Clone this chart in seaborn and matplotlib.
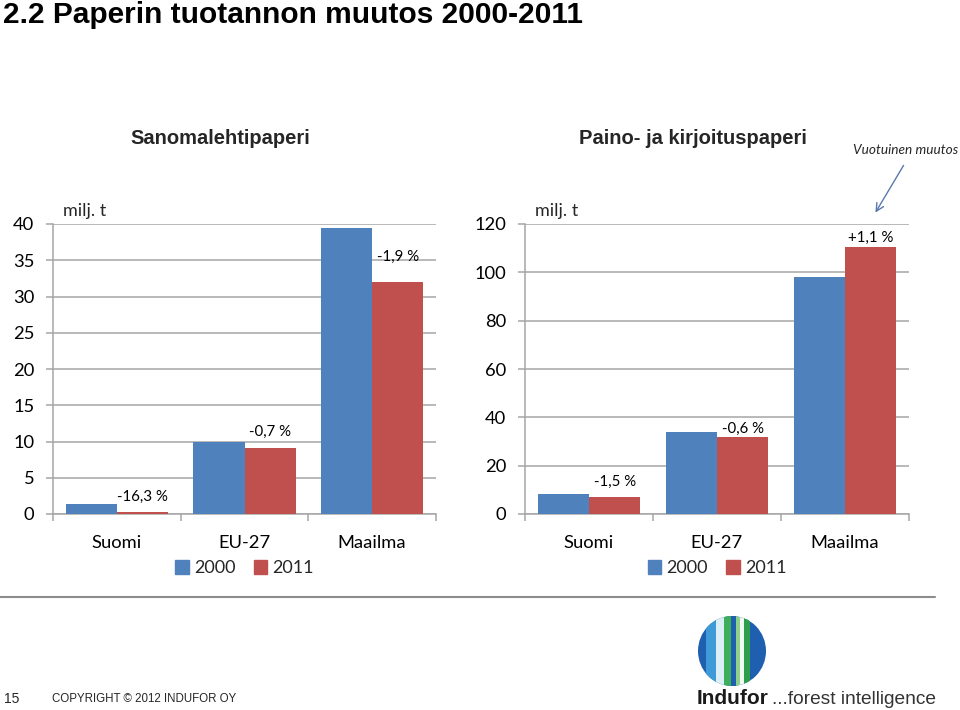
import matplotlib
matplotlib.use("Agg")
import matplotlib.pyplot as plt
import matplotlib.patches as mpatches
import seaborn as sns
import pandas as pd
import numpy as np

# ---------------- data ----------------
categories = ["Suomi", "EU-27", "Maailma"]
years = ["2000", "2011"]
news_2000 = [1.35, 10.0, 39.4]
news_2011 = [0.25, 9.1, 32.0]
news_change = ["-16,3 %", "-0,7 %", "-1,9 %"]
print_2000 = [8.2, 33.8, 97.9]
print_2011 = [6.9, 31.7, 110.6]
print_change = ["-1,5 %", "-0,6 %", "+1,1 %"]
news_yticks = [0, 5, 10, 15, 20, 25, 30, 35, 40]
print_yticks = [0, 20, 40, 60, 80, 100, 120]

# label offsets (points) above 2011 bars
news_off = [11, 11.5, 18]
print_off = [11, 6, 6.5]

BLUE = "#4F81BD"
RED = "#C0504D"
GRID = "#A6A6A6"
FONT = "Lato"

sns.set_theme(style="white")
plt.rcParams["font.family"] = [FONT, "DejaVu Sans"]

fig = plt.figure(figsize=(9.6, 7.1), dpi=100)


def make_df(v00, v11):
    return pd.DataFrame({
        "cat": categories * 2,
        "year": [years[0]] * 3 + [years[1]] * 3,
        "val": list(v00) + list(v11),
    })


def draw(ax, df, yticks, changes, offs):
    sns.barplot(data=df, x="cat", y="val", hue="year", order=categories,
                hue_order=years, palette=[BLUE, RED], width=0.8,
                saturation=1, ax=ax, zorder=3, edgecolor="none")
    ax.set_ylim(yticks[0], yticks[-1])
    ax.set_yticks(yticks)
    ax.set_xlim(-0.5, 2.5)
    ax.set_xlabel("")
    ax.set_ylabel("")
    ax.grid(axis="y", color=GRID, linewidth=1.1, zorder=0)
    ax.set_axisbelow(True)
    for s in ["top", "right"]:
        ax.spines[s].set_visible(False)
    for s in ["left", "bottom"]:
        ax.spines[s].set_color(GRID)
        ax.spines[s].set_linewidth(1.1)
    ax.tick_params(axis="y", length=5, color=GRID, width=1.1, labelsize=13.2,
                   labelcolor="black", pad=8.5, left=True)
    ax.tick_params(axis="x", which="major", length=0, labelsize=13.2,
                   labelcolor="black", pad=15)
    ax.set_xticks([-0.5, 0.5, 1.5, 2.5], minor=True)
    ax.tick_params(axis="x", which="minor", length=5, color=GRID, width=1.1,
                   bottom=True)
    # 2011 change labels
    bars = ax.containers[1]
    for rect, txt, o in zip(bars.patches, changes, offs):
        ax.annotate(txt, (rect.get_x() + rect.get_width() / 2, rect.get_height()),
                    xytext=(0, o), textcoords="offset points", ha="center",
                    va="center", fontsize=10.8, color="black")
    handles = [mpatches.Patch(color=BLUE), mpatches.Patch(color=RED)]
    if ax.get_legend() is not None:
        ax.get_legend().remove()
    ax.legend(handles, years, loc="upper center", bbox_to_anchor=(0.5, -0.135),
              ncol=2, frameon=False, fontsize=13, handlelength=0.75,
              handleheight=0.75, handletextpad=0.3, columnspacing=1.0,
              borderaxespad=0)
    ax.text(0.025, 1.045, "milj. t", transform=ax.transAxes, fontsize=13,
            ha="left", va="center")


ax1 = fig.add_axes([53 / 960, 1 - 514 / 710, 383 / 960, 290 / 710])
ax2 = fig.add_axes([525 / 960, 1 - 514 / 710, 384 / 960, 290 / 710])
draw(ax1, make_df(news_2000, news_2011), news_yticks, news_change, news_off)
draw(ax2, make_df(print_2000, print_2011), print_yticks, print_change, print_off)

# ---------------- texts ----------------
fig.text(3 / 960, 1 - 15 / 710, "2.2 Paperin tuotannon muutos 2000-2011",
         fontsize=21.5, fontweight="bold", family=["Liberation Sans", "DejaVu Sans"],
         ha="left", va="center", color="black")
fig.text(220 / 960, 1 - 138 / 710, "Sanomalehtipaperi", fontsize=14.5,
         fontweight="bold", family=["Liberation Sans", "DejaVu Sans"],
         ha="center", va="center")
fig.text(693 / 960, 1 - 138 / 710, "Paino- ja kirjoituspaperi", fontsize=14.5,
         fontweight="bold", family=["Liberation Sans", "DejaVu Sans"],
         ha="center", va="center")
fig.text(958 / 960, 1 - 150 / 710, "Vuotuinen muutos", fontsize=9.8,
         style="italic", ha="right", va="center")
fig.add_artist(mpatches.FancyArrowPatch(
    (905 / 960, 1 - 163 / 710), (874 / 960, 1 - 215 / 710),
    transform=fig.transFigure, arrowstyle="->", mutation_scale=14,
    color="#5A78B0", linewidth=1.0))

# footer
fig.add_artist(plt.Line2D([0, 935 / 960], [1 - 597 / 710] * 2,
                          transform=fig.transFigure, color="#8C8C8C", lw=1.5))
fig.text(4 / 960, 1 - 699 / 710, "15", fontsize=10,
         family=["Liberation Sans", "DejaVu Sans"], va="center", ha="left")
fig.text(52 / 960, 1 - 699 / 710, "COPYRIGHT © 2012 INDUFOR OY", fontsize=8.3,
         family=["Liberation Sans", "DejaVu Sans"], va="center", ha="left")
fig.text(697 / 960, 1 - 699 / 710, "Indufor", fontsize=15, fontweight="bold",
         family=["Liberation Sans", "DejaVu Sans"], va="center", ha="left",
         color="#1A1A1A")
fig.text(772 / 960, 1 - 699 / 710, "...forest intelligence", fontsize=13.8,
         family=["Liberation Sans Narrow", "Liberation Sans", "DejaVu Sans"],
         va="center", ha="left", color="#333333")

# logo
lax = fig.add_axes([698 / 960, 1 - 686 / 710, 68 / 960, 70 / 710])
lax.set_xlim(0, 1)
lax.set_ylim(0, 1)
lax.axis("off")
ell = mpatches.Ellipse((0.5, 0.5), 1.0, 1.0, facecolor="#1F5FB0",
                       edgecolor="none")
lax.add_patch(ell)
stripes = [(0.12, 0.14, "#3E9BD8"), (0.26, 0.12, "#DDEFF6"),
           (0.38, 0.10, "#3FAE5A"), (0.48, 0.08, "#1F5FB0"),
           (0.56, 0.06, "#8FD08A"), (0.62, 0.05, "#F2F8F4"),
           (0.67, 0.10, "#2E9E4A")]
for x0, w, c in stripes:
    r = mpatches.Rectangle((x0, 0), w, 1, facecolor=c, edgecolor="none")
    lax.add_patch(r)
    r.set_clip_path(ell)

fig.savefig("out.png", dpi=100)
